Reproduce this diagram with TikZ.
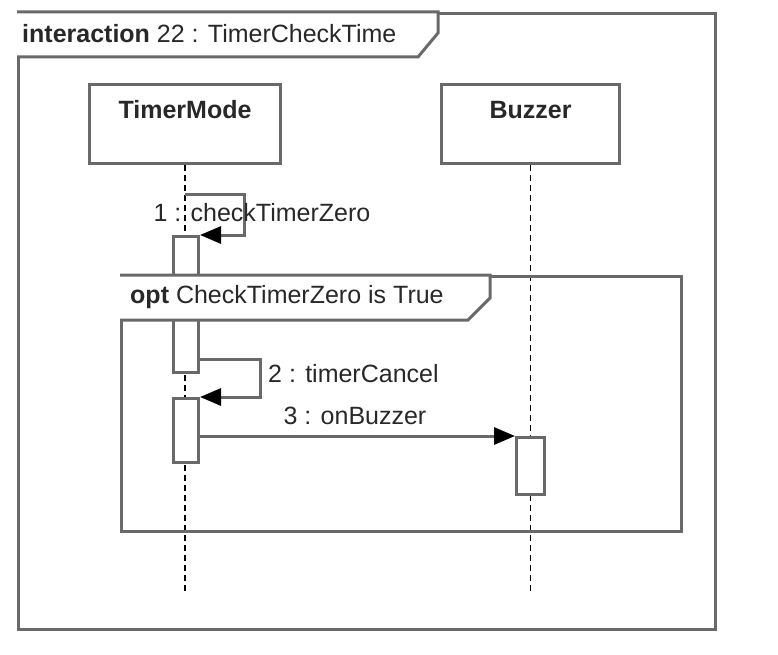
\documentclass[tikz,border=0pt]{standalone}
\usepackage{fontspec}
\setmainfont{Liberation Sans}
\usepackage{xcolor}
\usetikzlibrary{arrows.meta}
\definecolor{umlline}{RGB}{105,105,105}
\definecolor{umltext}{RGB}{40,40,40}

\begin{document}
\begin{tikzpicture}[x=1pt, y=-1pt, font=\fontsize{25}{30}\selectfont, text=umltext,
  frame/.style={rectangle, draw=umlline, line width=3pt, anchor=north west, inner sep=0pt},
  lifebox/.style={rectangle, draw=umlline, line width=3pt, fill=white, anchor=north west, inner sep=0pt, text height=34pt, text depth=45pt, minimum height=79pt},
  actbar/.style={rectangle, draw=umlline, line width=3pt, fill=white, anchor=north west, inner sep=0pt, minimum width=25pt},
  lifeline/.style={black, line width=1.8pt, dash pattern=on 6pt off 4pt},
  tag/.style={draw=umlline, line width=3pt, fill=white},
  msg/.style={umlline, line width=3pt, -{Triangle[length=21pt, width=17pt, color=black]}}]
\useasboundingbox (0,0) rectangle (778,655);

\node[frame, minimum width=697pt, minimum height=616pt] (outer) at (17,12) {};
\draw[tag] (17,12) -- (438,12) -- (438,33) -- (418,57) -- (17,57);
\node[anchor=west, inner sep=0pt] (outerlabel) at (22,34) {\textbf{interaction} 22 : TimerCheckTime};

\node[lifebox, minimum width=191pt] (timer) at (88,83) {\textbf{TimerMode}};
\node[lifebox, minimum width=178pt] (buzzer) at (440,83) {\textbf{Buzzer}};

\coordinate (timerend) at (timer.south |- 0,591);
\coordinate (buzzerend) at (buzzer.south |- 0,591);
\draw[lifeline] (timer.south) -- (timerend);
\draw[lifeline] (buzzer.south) -- (buzzerend);

\node[actbar, minimum height=136pt] (act1) at (172,235) {};
\node[actbar, minimum height=64pt] (act2) at (172,397) {};
\node[actbar, minimum width=28pt, minimum height=57pt] (act3) at (515,436) {};

\node[frame, minimum width=560pt, minimum height=255pt] (opt) at (120,275) {};
\draw[tag] (120,275) -- (490,275) -- (490,298) -- (468,320) -- (120,320);
\node[anchor=west, inner sep=0pt] (optlabel) at (130,297) {\textbf{opt} CheckTimerZero is True};

\coordinate (m1start) at (timer.south |- 0,194);
\draw[msg] (m1start) -- ++(59,0) |- (act1.north east);
\node (m1label) at (262,213) {1 : checkTimerZero};

\draw[msg] ([yshift=15pt]act1.south east) -- ++(60,0) |- (act2.north east);
\node[anchor=west, inner sep=0pt] (m2label) at (268,374) {2 : timerCancel};

\draw[msg] (act2.east |- act3.north west) -- (act3.north west);
\node (m3label) at (355,416) {3 : onBuzzer};
\end{tikzpicture}
\end{document}
